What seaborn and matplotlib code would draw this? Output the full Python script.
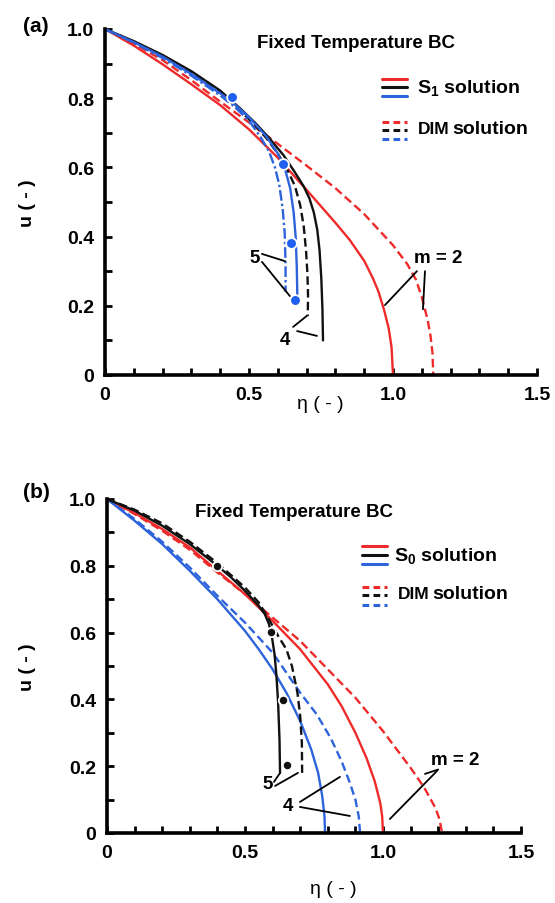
import numpy as np
import pandas as pd
import matplotlib
matplotlib.use('Agg')
import matplotlib.pyplot as plt
from matplotlib.ticker import MultipleLocator
import seaborn as sns

# ---------------- data : panel (a) ----------------
A_RED_S_ETA = [0, 0.1, 0.2, 0.3, 0.4, 0.5, 0.6, 0.7, 0.8, 0.85, 0.9, 0.93, 0.95, 0.97, 0.985, 0.995, 1.0]
A_RED_S_U = [1.0, 0.952, 0.898, 0.84, 0.78, 0.71, 0.628, 0.535, 0.44, 0.39, 0.33, 0.28, 0.24, 0.185, 0.135, 0.08, 0.0]
A_RED_D_ETA = [0, 0.1, 0.2, 0.3, 0.4, 0.5, 0.6, 0.7, 0.8, 0.9, 1.0, 1.05, 1.08, 1.1, 1.12, 1.13, 1.137, 1.14]
A_RED_D_U = [1.0, 0.958, 0.91, 0.852, 0.79, 0.73, 0.668, 0.605, 0.54, 0.465, 0.375, 0.32, 0.275, 0.225, 0.16, 0.115, 0.065, 0.0]
A_BLK_S_ETA = [0, 0.1, 0.2, 0.3, 0.4, 0.47, 0.52, 0.57, 0.62, 0.66, 0.69, 0.71, 0.725, 0.737, 0.745, 0.751, 0.755, 0.757]
A_BLK_S_U = [1.0, 0.965, 0.925, 0.878, 0.822, 0.77, 0.73, 0.685, 0.635, 0.585, 0.545, 0.51, 0.47, 0.42, 0.36, 0.28, 0.19, 0.10]
A_BLK_D_ETA = [0, 0.1, 0.2, 0.3, 0.4, 0.47, 0.52, 0.56, 0.6, 0.635, 0.66, 0.678, 0.69, 0.698, 0.703, 0.705, 0.704]
A_BLK_D_U = [1.0, 0.963, 0.922, 0.874, 0.816, 0.765, 0.722, 0.685, 0.64, 0.59, 0.545, 0.49, 0.43, 0.36, 0.29, 0.23, 0.17]
A_BLU_S_ETA = [0, 0.1, 0.2, 0.3, 0.4, 0.44, 0.5, 0.56, 0.6, 0.625, 0.643, 0.655, 0.662, 0.666, 0.668]
A_BLU_S_U = [1.0, 0.962, 0.92, 0.87, 0.814, 0.79, 0.745, 0.69, 0.64, 0.595, 0.54, 0.47, 0.40, 0.31, 0.22]
A_BLU_D_ETA = [0, 0.1, 0.2, 0.3, 0.4, 0.45, 0.5, 0.54, 0.57, 0.59, 0.605, 0.617, 0.624, 0.627, 0.627]
A_BLU_D_U = [1.0, 0.96, 0.916, 0.865, 0.808, 0.775, 0.735, 0.688, 0.645, 0.60, 0.55, 0.48, 0.41, 0.32, 0.24]
A_DOT_ETA = [0.44, 0.618, 0.646, 0.66]
A_DOT_U = [0.803, 0.61, 0.382, 0.217]

# ---------------- data : panel (b) ----------------
B_RED_S_ETA = [0, 0.1, 0.2, 0.3, 0.4, 0.5, 0.6, 0.7, 0.8, 0.85, 0.9, 0.94, 0.97, 0.99, 0.997, 1.0]
B_RED_S_U = [1.0, 0.958, 0.91, 0.855, 0.785, 0.715, 0.635, 0.55, 0.445, 0.38, 0.30, 0.225, 0.155, 0.09, 0.05, 0.0]
B_RED_D_ETA = [0, 0.1, 0.2, 0.3, 0.4, 0.5, 0.6, 0.7, 0.8, 0.9, 1.0, 1.1, 1.15, 1.19, 1.205, 1.214]
B_RED_D_U = [1.0, 0.955, 0.905, 0.848, 0.78, 0.715, 0.645, 0.575, 0.49, 0.405, 0.305, 0.195, 0.135, 0.075, 0.04, 0.0]
B_BLU_S_ETA = [0, 0.1, 0.2, 0.3, 0.4, 0.5, 0.55, 0.6, 0.65, 0.7, 0.74, 0.765, 0.78, 0.788, 0.79]
B_BLU_S_U = [1.0, 0.935, 0.865, 0.785, 0.70, 0.605, 0.55, 0.49, 0.42, 0.335, 0.25, 0.18, 0.11, 0.05, 0.0]
B_BLU_D_ETA = [0, 0.1, 0.2, 0.3, 0.4, 0.5, 0.6, 0.7, 0.76, 0.81, 0.85, 0.88, 0.9, 0.912, 0.917]
B_BLU_D_U = [1.0, 0.94, 0.872, 0.795, 0.71, 0.63, 0.54, 0.42, 0.355, 0.285, 0.215, 0.15, 0.10, 0.05, 0.0]
B_BLK_S_ETA = [0, 0.1, 0.2, 0.3, 0.4, 0.45, 0.5, 0.55, 0.572, 0.587, 0.598, 0.607, 0.614, 0.62, 0.625, 0.627]
B_BLK_S_U = [1.0, 0.965, 0.92, 0.865, 0.80, 0.765, 0.725, 0.68, 0.655, 0.625, 0.585, 0.535, 0.47, 0.39, 0.28, 0.18]
B_BLK_D_ETA = [0, 0.1, 0.2, 0.3, 0.4, 0.5, 0.55, 0.59, 0.62, 0.65, 0.67, 0.69, 0.70, 0.706, 0.707]
B_BLK_D_U = [1.0, 0.968, 0.927, 0.872, 0.808, 0.735, 0.69, 0.635, 0.59, 0.55, 0.50, 0.42, 0.35, 0.27, 0.18]
B_DOT_ETA = [0.40, 0.594, 0.638, 0.652]
B_DOT_U = [0.80, 0.602, 0.398, 0.204]

# ---------------- ticks / labels ----------------
XTICKS = [0, 0.5, 1.0, 1.5]
XTICK_LABELS = ['0', '0.5', '1.0', '1.5']
YTICKS = [0, 0.2, 0.4, 0.6, 0.8, 1.0]
YTICK_LABELS = ['0', '0.2', '0.4', '0.6', '0.8', '1.0']

# annotation anchors (data coords)
A_NOTES = [('5', 0.521, 0.341), ('4', 0.625, 0.104), ('m = 2', 1.156, 0.341)]
A_LEADERS = [((0.545, 0.350), (0.625, 0.329)), ((0.545, 0.327), (0.642, 0.228)),
             ((0.653, 0.139), (0.701, 0.171)), ((0.667, 0.127), (0.736, 0.113)),
             ((1.083, 0.300), (0.972, 0.202)), ((1.111, 0.300), (1.104, 0.190))]
B_NOTES = [('5', 0.583, 0.147), ('4', 0.656, 0.081), ('m = 2', 1.26, 0.22)]
B_LEADERS = [((0.605, 0.153), (0.627, 0.180)), ((0.609, 0.141), (0.692, 0.180)),
             ((0.699, 0.093), (0.844, 0.168)), ((0.699, 0.078), (0.880, 0.051)),
             ((1.196, 0.186), (1.025, 0.042)), ((1.200, 0.190), (1.152, 0.177))]

RED = '#ee2a2a'
BLUE = '#2d63db'
DOTBLUE = '#1f5ff2'
BLACK = '#111111'
SOLID = '-'
DASH = (0, (3.6, 1.8))
DASHDOT = (0, (4.5, 1.3, 1.0, 1.3))

sns.set_theme(style='ticks')
plt.rcParams['font.family'] = ['Liberation Sans', 'DejaVu Sans']
plt.rcParams['mathtext.fontset'] = 'custom'
plt.rcParams['mathtext.bf'] = 'Liberation Sans:bold'
plt.rcParams['mathtext.rm'] = 'Liberation Sans:bold'
plt.rcParams['text.color'] = 'black'
plt.rcParams['axes.labelcolor'] = 'black'
plt.rcParams['xtick.color'] = 'black'
plt.rcParams['ytick.color'] = 'black'

W, H = 555, 904
fig = plt.figure(figsize=(W / 100, H / 100), dpi=100)
fig.patch.set_facecolor('white')


def px_axes(l, r, t, b):
    return fig.add_axes([l / W, 1 - b / H, (r - l) / W, (b - t) / H])


ax1 = px_axes(105, 537, 30, 376)
ax2 = px_axes(107, 521, 500, 834)


def curve(ax, eta, u, color, ls):
    df = pd.DataFrame({'eta': eta, 'u': u})
    sns.lineplot(data=df, x='eta', y='u', ax=ax, color=color, linestyle=ls,
                 linewidth=1.7, sort=False, estimator=None, clip_on=False)


def dots(ax, eta, u, color, s):
    sns.scatterplot(x=eta, y=u, ax=ax, color=color, s=s, edgecolor='white',
                    linewidth=1.3, zorder=6, clip_on=False)


def style_axes(ax):
    ax.set_xlim(0, 1.5)
    ax.set_ylim(0, 1.0)
    ax.set_xticks(XTICKS)
    ax.set_xticklabels(XTICK_LABELS)
    ax.set_yticks(YTICKS)
    ax.set_yticklabels(YTICK_LABELS)
    ax.xaxis.set_minor_locator(MultipleLocator(0.1))
    ax.yaxis.set_minor_locator(MultipleLocator(0.1))
    ax.tick_params(which='both', direction='in', length=5, width=2, color='black')
    ax.tick_params(which='major', labelsize=14, pad=8, labelcolor='black')
    for lab in ax.get_xticklabels() + ax.get_yticklabels():
        lab.set_fontweight('bold')
    for s in ['top', 'right']:
        ax.spines[s].set_visible(False)
    for s in ['left', 'bottom']:
        ax.spines[s].set_linewidth(2.6)
        ax.spines[s].set_color('black')
    ax.set_xlabel('')
    ax.set_ylabel('')
    ax.set_facecolor('white')


def legend(ax, x0, x1, ys_solid, ys_dash, sub, tx1, ty1, tx2, ty2, tx2b):
    for y, c in zip(ys_solid, [RED, BLACK, BLUE]):
        ax.plot([x0, x1], [y, y], color=c, lw=2.2, transform=ax.transAxes, clip_on=False)
    for y, c in zip(ys_dash, [RED, BLACK, BLUE]):
        ax.plot([x0, x1], [y, y], color=c, lw=2.2, linestyle=(0, (2.2, 1.4)),
                transform=ax.transAxes, clip_on=False)
    ax.text(tx1, ty1, r'$\mathbf{S_%s}$ solution' % sub, transform=ax.transAxes,
            ha='left', va='center', fontsize=14, fontweight='bold')
    ax.text(tx2, ty2, 'DIM', transform=ax.transAxes, ha='left', va='center',
            fontsize=12.5, fontweight='bold')
    ax.text(tx2b, ty2, 'solution', transform=ax.transAxes, ha='left', va='center',
            fontsize=14, fontweight='bold')


# ---------- panel (a) ----------
curve(ax1, A_RED_S_ETA, A_RED_S_U, RED, SOLID)
curve(ax1, A_RED_D_ETA, A_RED_D_U, RED, DASH)
curve(ax1, A_BLK_S_ETA, A_BLK_S_U, BLACK, SOLID)
curve(ax1, A_BLK_D_ETA, A_BLK_D_U, BLACK, DASH)
curve(ax1, A_BLU_S_ETA, A_BLU_S_U, BLUE, SOLID)
curve(ax1, A_BLU_D_ETA, A_BLU_D_U, BLUE, DASHDOT)
dots(ax1, A_DOT_ETA, A_DOT_U, DOTBLUE, 60)
style_axes(ax1)
ax1.text(0.352, 0.962, 'Fixed Temperature BC', transform=ax1.transAxes, ha='left',
         va='center', fontsize=13.5, fontweight='bold')
legend(ax1, 0.641, 0.699, [0.855, 0.832, 0.806], [0.731, 0.708, 0.682], '1',
       0.722, 0.832, 0.725, 0.711, 0.803)
for t, x, y in A_NOTES:
    ax1.text(x, y, t, ha='center', va='center', fontsize=13.5, fontweight='bold')
for (p0, p1) in A_LEADERS:
    ax1.plot([p0[0], p1[0]], [p0[1], p1[1]], color='black', lw=1.3)

# ---------- panel (b) ----------
curve(ax2, B_RED_S_ETA, B_RED_S_U, RED, SOLID)
curve(ax2, B_RED_D_ETA, B_RED_D_U, RED, DASH)
curve(ax2, B_BLU_S_ETA, B_BLU_S_U, BLUE, SOLID)
curve(ax2, B_BLU_D_ETA, B_BLU_D_U, BLUE, DASH)
curve(ax2, B_BLK_S_ETA, B_BLK_S_U, BLACK, SOLID)
curve(ax2, B_BLK_D_ETA, B_BLK_D_U, BLACK, DASH)
dots(ax2, B_DOT_ETA, B_DOT_U, BLACK, 45)
style_axes(ax2)
ax2.text(0.213, 0.964, 'Fixed Temperature BC', transform=ax2.transAxes, ha='left',
         va='center', fontsize=13.5, fontweight='bold')
legend(ax2, 0.616, 0.676, [0.859, 0.832, 0.805], [0.737, 0.713, 0.683], '0',
       0.693, 0.832, 0.703, 0.716, 0.785)
for t, x, y in B_NOTES:
    ax2.text(x, y, t, ha='center', va='center', fontsize=13.5, fontweight='bold')
for (p0, p1) in B_LEADERS:
    ax2.plot([p0[0], p1[0]], [p0[1], p1[1]], color='black', lw=1.3)

# ---------- figure labels ----------
fig.text(23 / W, 1 - 27 / H, '(a)', ha='left', va='center', fontsize=15, fontweight='bold')
fig.text(23 / W, 1 - 493 / H, '(b)', ha='left', va='center', fontsize=15, fontweight='bold')
fig.text(27 / W, 1 - 203 / H, 'u ( - )', rotation=90, ha='center', va='center',
         fontsize=14, fontweight='bold')
fig.text(27 / W, 1 - 667 / H, 'u ( - )', rotation=90, ha='center', va='center',
         fontsize=14, fontweight='bold')
fig.text(320 / W, 1 - 405 / H, 'η ( - )', ha='center', va='center', fontsize=14)
fig.text(333 / W, 1 - 890 / H, 'η ( - )', ha='center', va='center', fontsize=14)

fig.savefig('out.png', dpi=100, facecolor='white')
